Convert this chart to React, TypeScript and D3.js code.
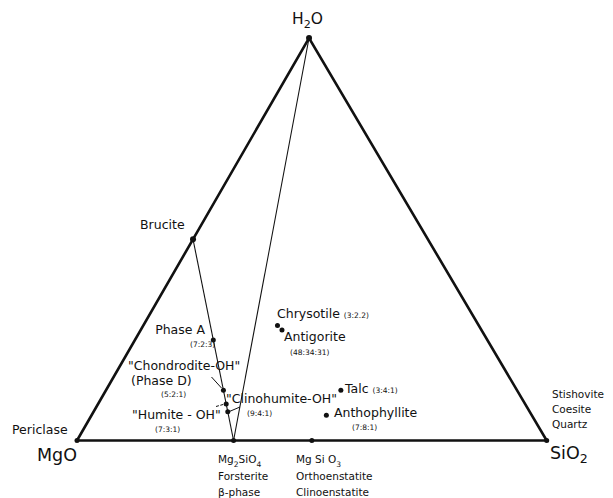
import React from 'react';
import * as d3 from 'd3';

// molar ratios MgO : SiO2 : H2O
const vertices = [
  { id: 'MgO', ratio: [1, 0, 0] },
  { id: 'SiO2', ratio: [0, 1, 0] },
  { id: 'H2O', ratio: [0, 0, 1] },
];

const phases = [
  { id: 'Brucite', ratio: [1, 0, 1] },
  { id: 'PhaseA', ratio: [7, 2, 3] },
  { id: 'Chondrodite', ratio: [5, 2, 1] },
  { id: 'Humite', ratio: [7, 3, 1] },
  { id: 'Clinohumite', ratio: [9, 4, 1] },
  { id: 'Forsterite', ratio: [2, 1, 0] },
  { id: 'Enstatite', ratio: [1, 1, 0] },
  { id: 'Chrysotile', ratio: [3, 2, 2] },
  { id: 'Antigorite', ratio: [48, 34, 31] },
  { id: 'Talc', ratio: [3, 4, 1] },
  { id: 'Anthophyllite', ratio: [7, 8, 1] },
];

// tie lines between compositions
const joins = [
  ['Brucite', 'Forsterite'],
  ['H2O', 'Forsterite'],
];

// ternary -> cartesian: x is SiO2 share plus (nearly) half of H2O share, y is H2O share
const apexShift = 0.494;
const xScale = d3.scaleLinear().domain([0, 1]).range([77, 546.7]);
const yScale = d3.scaleLinear().domain([0, 1]).range([440.5, 38]);

const project = (r: number[]) => {
  const s = r[0] + r[1] + r[2];
  const b = r[1] / s;
  const c = r[2] / s;
  return [xScale(b + c * apexShift), yScale(c)];
};

const allPts: Record<string, number[]> = {};
[...vertices, ...phases].forEach(p => { allPts[p.id] = project(p.ratio); });

const font = "'DejaVu Sans', 'Liberation Sans', sans-serif";

// "_" marks a subscript chunk
const Formula = ({ parts, ...rest }: any) => {
  let shift = 0;
  return (
    <text {...rest}>
      {parts.map((s: string, i: number) => {
        const sub = s.startsWith('_');
        const dy = (sub ? 3.5 : 0) - shift;
        shift = sub ? 3.5 : 0;
        return (
          <tspan key={i} dy={dy} fontSize={sub ? '0.72em' : undefined}>{sub ? s.slice(1) : s}</tspan>
        );
      })}
    </text>
  );
};

const App = () => {
  const side = d3.line()(['MgO', 'SiO2', 'H2O', 'MgO'].map(k => allPts[k] as [number, number]));
  const P = (k: string) => allPts[k];

  return (
    <svg width={613} height={498} style={{ position: 'absolute', left: 0, top: 0, background: '#fff' }}
      fontFamily={font} fill="#111">
      {joins.map(([a, b]) => (
        <line key={a + b} x1={P(a)[0]} y1={P(a)[1]} x2={P(b)[0]} y2={P(b)[1]} stroke="#111" strokeWidth={1.1} />
      ))}
      <path d={side || ''} fill="none" stroke="#111" strokeWidth={2.6} strokeLinejoin="miter" />

      {[...vertices, ...phases].map(p => (
        <circle key={p.id} cx={P(p.id)[0]} cy={P(p.id)[1]} r={p.id === 'Brucite' || p.id === 'H2O' ? 3 : 2.5} fill="#111" />
      ))}

      {/* leaders */}
      <line x1={211.5} y1={377} x2={221.5} y2={388} stroke="#111" strokeWidth={1} />
      <line x1={216} y1={406.5} x2={P('Humite')[0] - 1} y2={P('Humite')[1]} stroke="#111" strokeWidth={1} strokeDasharray="3,1.5" />
      <line x1={240} y1={407} x2={P('Clinohumite')[0] + 1} y2={P('Clinohumite')[1]} stroke="#111" strokeWidth={1} />

      {/* vertex labels */}
      <Formula parts={['H', '_2', 'O']} x={292} y={24} fontSize={15.5} />
      <text x={37} y={461} fontSize={17.5}>MgO</text>
      <Formula parts={['SiO', '_2']} x={550} y={459} fontSize={17.5} />
      <text x={12} y={434} fontSize={12.5}>Periclase</text>
      <g fontSize={10.5}>
        <text x={552} y={398}>Stishovite</text>
        <text x={552} y={413}>Coesite</text>
        <text x={552} y={428}>Quartz</text>
      </g>

      {/* phase labels */}
      <text x={140} y={229} fontSize={12.5}>Brucite</text>

      <text x={205} y={334} fontSize={12.5} textAnchor="end">Phase A</text>
      <text x={190} y={347} fontSize={7.5}>(7:2:3)</text>

      <text x={277} y={318} fontSize={12.5}>Chrysotile <tspan fontSize={7.5}>(3:2.2)</tspan></text>
      <text x={284} y={341} fontSize={12.5}>Antigorite</text>
      <text x={290} y={355} fontSize={7.5}>(48:34:31)</text>

      <text x={128} y={370} fontSize={12.5}>"Chondrodite-OH"</text>
      <text x={131} y={385} fontSize={12.5}>(Phase D)</text>
      <text x={161} y={397} fontSize={7.5}>(5:2:1)</text>

      <text x={226} y={403} fontSize={12.5}>"Clinohumite-OH"</text>
      <text x={247} y={416} fontSize={7.5}>(9:4:1)</text>

      <text x={132} y={419} fontSize={12.5}>"Humite - OH"</text>
      <text x={155} y={432} fontSize={7.5}>(7:3:1)</text>

      <text x={345} y={393} fontSize={12.5}>Talc <tspan fontSize={7.5}>(3:4:1)</tspan></text>
      <text x={334} y={417} fontSize={12.5}>Anthophyllite</text>
      <text x={352} y={430} fontSize={7.5}>(7:8:1)</text>

      <g fontSize={10.5}>
        <Formula parts={['Mg', '_2', 'SiO', '_4']} x={218} y={463} />
        <text x={218} y={480}>Forsterite</text>
        <text x={218} y={496}>β-phase</text>
        <Formula parts={['Mg Si O', '_3']} x={296} y={463} />
        <text x={296} y={480}>Orthoenstatite</text>
        <text x={296} y={496}>Clinoenstatite</text>
      </g>
    </svg>
  );
};

export default App;
